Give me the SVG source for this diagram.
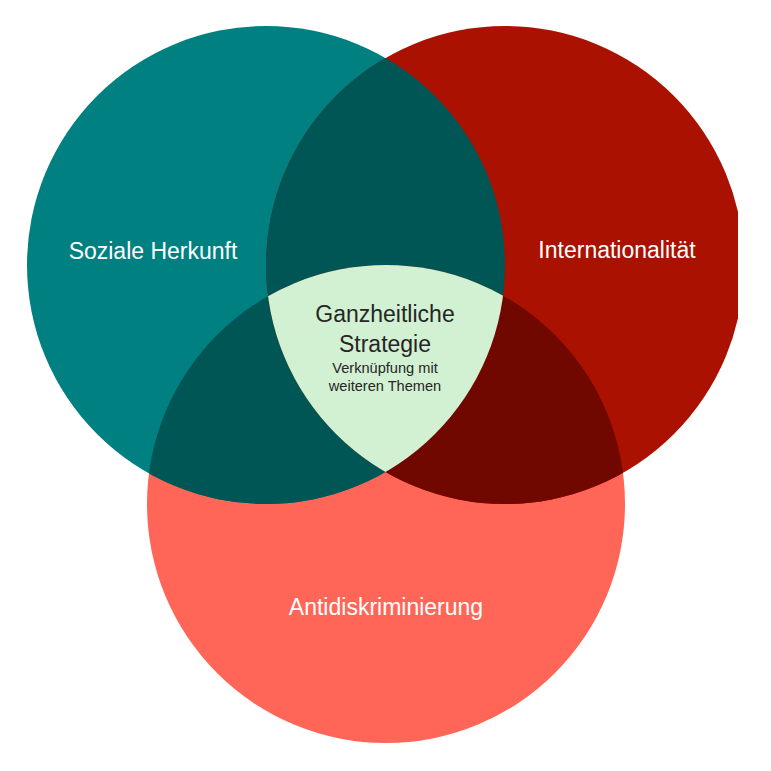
<svg xmlns="http://www.w3.org/2000/svg" width="771" height="771" viewBox="0 0 771 771">
  <style>
    .lbl { font-family: "Liberation Sans", Arial, sans-serif; fill: #ffffff; font-size: 23px; text-anchor: middle; }
    .ctr { font-family: "Liberation Sans", Arial, sans-serif; fill: #262626; text-anchor: middle; }
  </style>
  <defs>
    <clipPath id="clipPage"><rect x="0" y="0" width="738" height="771"/></clipPath>
    <clipPath id="clipTeal"><circle cx="266" cy="265" r="239"/></clipPath>
    <clipPath id="clipRed"><circle cx="505" cy="265" r="239"/></clipPath>
    <clipPath id="clipSalmon"><circle cx="386" cy="504" r="239"/></clipPath>
  </defs>
  <rect width="771" height="771" fill="#ffffff"/>
  <g id="node-antidiskriminierung">
    <circle cx="386" cy="504" r="239" fill="#ff6657"/>
    <text class="lbl" x="386" y="615">Antidiskriminierung</text>
  </g>
  <g id="node-soziale-herkunft">
    <circle cx="266" cy="265" r="239" fill="#008080"/>
    <text class="lbl" x="153" y="259">Soziale Herkunft</text>
  </g>
  <g id="node-internationalitaet">
    <g clip-path="url(#clipPage)">
      <circle cx="505" cy="265" r="239" fill="#aa1100"/>
    </g>
    <text class="lbl" x="617" y="258">Internationalität</text>
  </g>
  <g id="overlaps">
    <g clip-path="url(#clipTeal)">
      <circle cx="505" cy="265" r="239" fill="#005555"/>
      <circle cx="386" cy="504" r="239" fill="#005555"/>
    </g>
    <g clip-path="url(#clipRed)">
      <circle cx="386" cy="504" r="239" fill="#700800"/>
    </g>
  </g>
  <g id="node-ganzheitliche-strategie">
    <g clip-path="url(#clipTeal)">
      <g clip-path="url(#clipRed)">
        <circle cx="386" cy="504" r="239" fill="#d2f0d2"/>
      </g>
    </g>
    <text class="ctr" x="385" y="322" font-size="23">Ganzheitliche</text>
    <text class="ctr" x="385" y="352" font-size="23">Strategie</text>
    <text class="ctr" x="385" y="373" font-size="14.6">Verknüpfung mit</text>
    <text class="ctr" x="385" y="391" font-size="14.6">weiteren Themen</text>
  </g>
  <g id="connectors"/>
</svg>
